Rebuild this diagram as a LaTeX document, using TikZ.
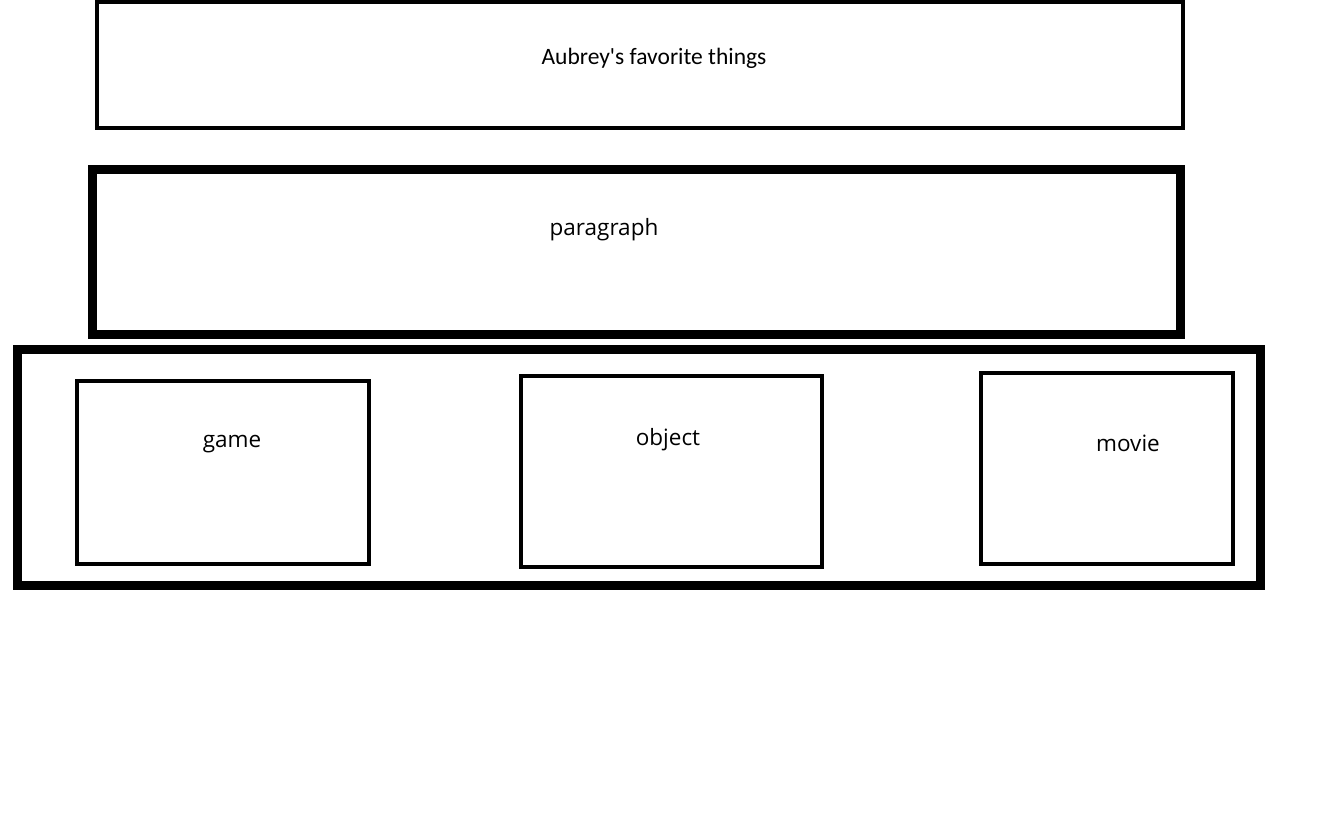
\documentclass[tikz,border=0pt]{standalone}
\usepackage{fontspec}
\setmainfont{Open Sans}
\newfontfamily\titlefont{Carlito}

\begin{document}
\begin{tikzpicture}[%
        x = 1pt, y = -1pt,
        thinbox/.style = {%
            draw, line width = 4pt, inner sep = 0pt
        },
        thickbox/.style = {%
            draw, line width = 9pt, inner sep = 0pt
        },
        lbl/.style = {%
            inner sep = 0pt,
            font = \fontsize{22.5}{26}\selectfont
        }
    ]

        % Page size.
        \useasboundingbox (0,0) rectangle (1331,834);

        % Title and paragraph boxes.
        \node[thinbox, minimum width = 1086pt, minimum height = 126pt] (title) at (640,65) {};
        \node[thickbox, minimum width = 1088pt, minimum height = 165pt] (para) at (636.5,252) {};

        % Row holding the three things.
        \node[thickbox, minimum width = 1243pt, minimum height = 236pt] (row) at (639,467.5) {};
        \node[thinbox, minimum width = 292pt, minimum height = 183pt] (game) at (223,472.5) {};
        \node[thinbox, minimum width = 301pt, minimum height = 191pt] (object) at (671.5,471.5) {};
        \node[thinbox, minimum width = 252pt, minimum height = 191pt] (movie) at (1107,468.5) {};

        % Label the boxes.
        \node[lbl, font = \titlefont\fontsize{23.5}{26}\selectfont] (titletxt) at (654,58) {Aubrey's favorite things};
        \node[lbl] (paratxt) at (604,230) {paragraph};
        \node[lbl] (gametxt) at (232,444) {game};
        \node[lbl] (objecttxt) at (668,440) {object};
        \node[lbl] (movietxt) at (1128,443) {movie};
    \end{tikzpicture}
\end{document}
